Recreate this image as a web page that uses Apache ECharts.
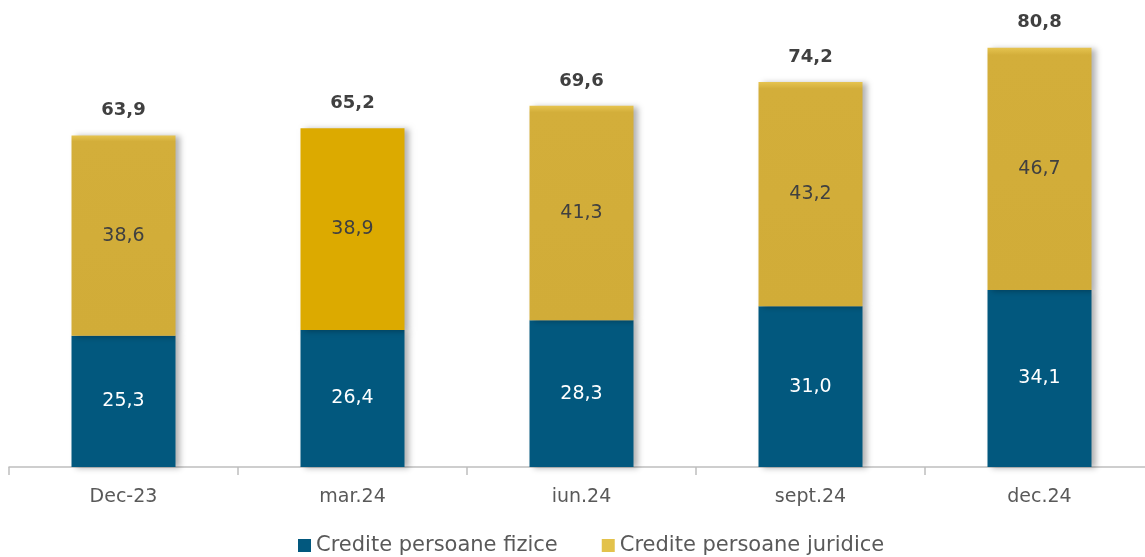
<!DOCTYPE html>
<html>
<head>
<meta charset="utf-8">
<script src="https://cdn.jsdelivr.net/npm/echarts@6/dist/echarts.min.js"></script>
<style>
  html, body { margin: 0; padding: 0; background: #fff; }
  #chart { width: 1145px; height: 557px; }
</style>
</head>
<body>
<div id="chart"></div>
<script>
const categories = ["Dec-23", "mar.24", "iun.24", "sept.24", "dec.24"];
const fizice = [25.3, 26.4, 28.3, 31.0, 34.1];
const juridice = [38.6, 38.9, 41.3, 43.2, 46.7];
const totals = [63.9, 65.2, 69.6, 74.2, 80.8];

const fmt = (v) => v.toFixed(1).replace(".", ",");
const font = "'DejaVu Sans', sans-serif";

const gold = new echarts.graphic.LinearGradient(0, 0, 0, 1, [
  { offset: 0, color: "#E6C450" },
  { offset: 0.03, color: "#D3AE3A" },
  { offset: 1, color: "#D1AC38" },
]);

const shadow = {
  shadowBlur: 6,
  shadowOffsetX: 4,
  shadowOffsetY: 1,
  shadowColor: "rgba(0,0,0,0.3)",
};

const chart = echarts.init(document.getElementById("chart"));
chart.setOption({
  animation: false,
  grid: { left: 9, top: 0, right: -9, bottom: 90, outerBoundsMode: "none", containLabel: false },
  legend: {
    data: [
      { name: "Credite persoane fizice", itemStyle: { color: "#02587E", shadowBlur: 0, shadowOffsetX: 0, shadowOffsetY: 0 } },
      { name: "Credite persoane juridice", itemStyle: { color: "#E3C24B", shadowBlur: 0, shadowOffsetX: 0, shadowOffsetY: 0 } },
    ],
    bottom: -4,
    left: 293,
    icon: "rect",
    itemWidth: 13,
    itemHeight: 13,
    itemGap: 44,
    textStyle: { fontFamily: font, fontSize: 21, color: "#595959" },
  },
  xAxis: {
    type: "category",
    data: categories,
    axisLine: { lineStyle: { color: "#BFBFBF", width: 1.5 } },
    axisTick: { show: true, alignWithLabel: false, length: 8, lineStyle: { color: "#BFBFBF", width: 1.5 } },
    axisLabel: { fontFamily: font, fontSize: 19, color: "#595959", margin: 21 },
  },
  yAxis: { type: "value", min: 0, max: 90, show: false, splitLine: { show: false } },
  series: [
    {
      name: "Credite persoane fizice",
      type: "bar",
      stack: "t",
      barWidth: 104,
      data: fizice,
      itemStyle: Object.assign({ color: "#02587E" }, shadow),
      label: {
        show: true,
        position: "inside",
        formatter: (p) => fmt(p.value),
        fontFamily: font,
        fontSize: 19,
        color: "#fff",
      },
    },
    {
      name: "Credite persoane juridice",
      type: "bar",
      stack: "t",
      barWidth: 104,
      data: juridice.map((v, i) =>
        i === 1 ? { value: v, itemStyle: { color: "#DCAA00" } } : v
      ),
      itemStyle: Object.assign({ color: gold }, shadow),
      label: {
        show: true,
        position: "inside",
        formatter: (p) => fmt(p.value),
        fontFamily: font,
        fontSize: 19,
        color: "#404040",
      },
    },
    {
      name: "total",
      type: "bar",
      stack: "t",
      barWidth: 104,
      data: totals.map(() => 0),
      itemStyle: { color: "transparent" },
      label: {
        show: true,
        position: "top",
        distance: 16,
        formatter: (p) => fmt(totals[p.dataIndex]),
        fontFamily: font,
        fontSize: 18,
        fontWeight: "bold",
        color: "#404040",
      },
    },
  ],
});
</script>
</body>
</html>
